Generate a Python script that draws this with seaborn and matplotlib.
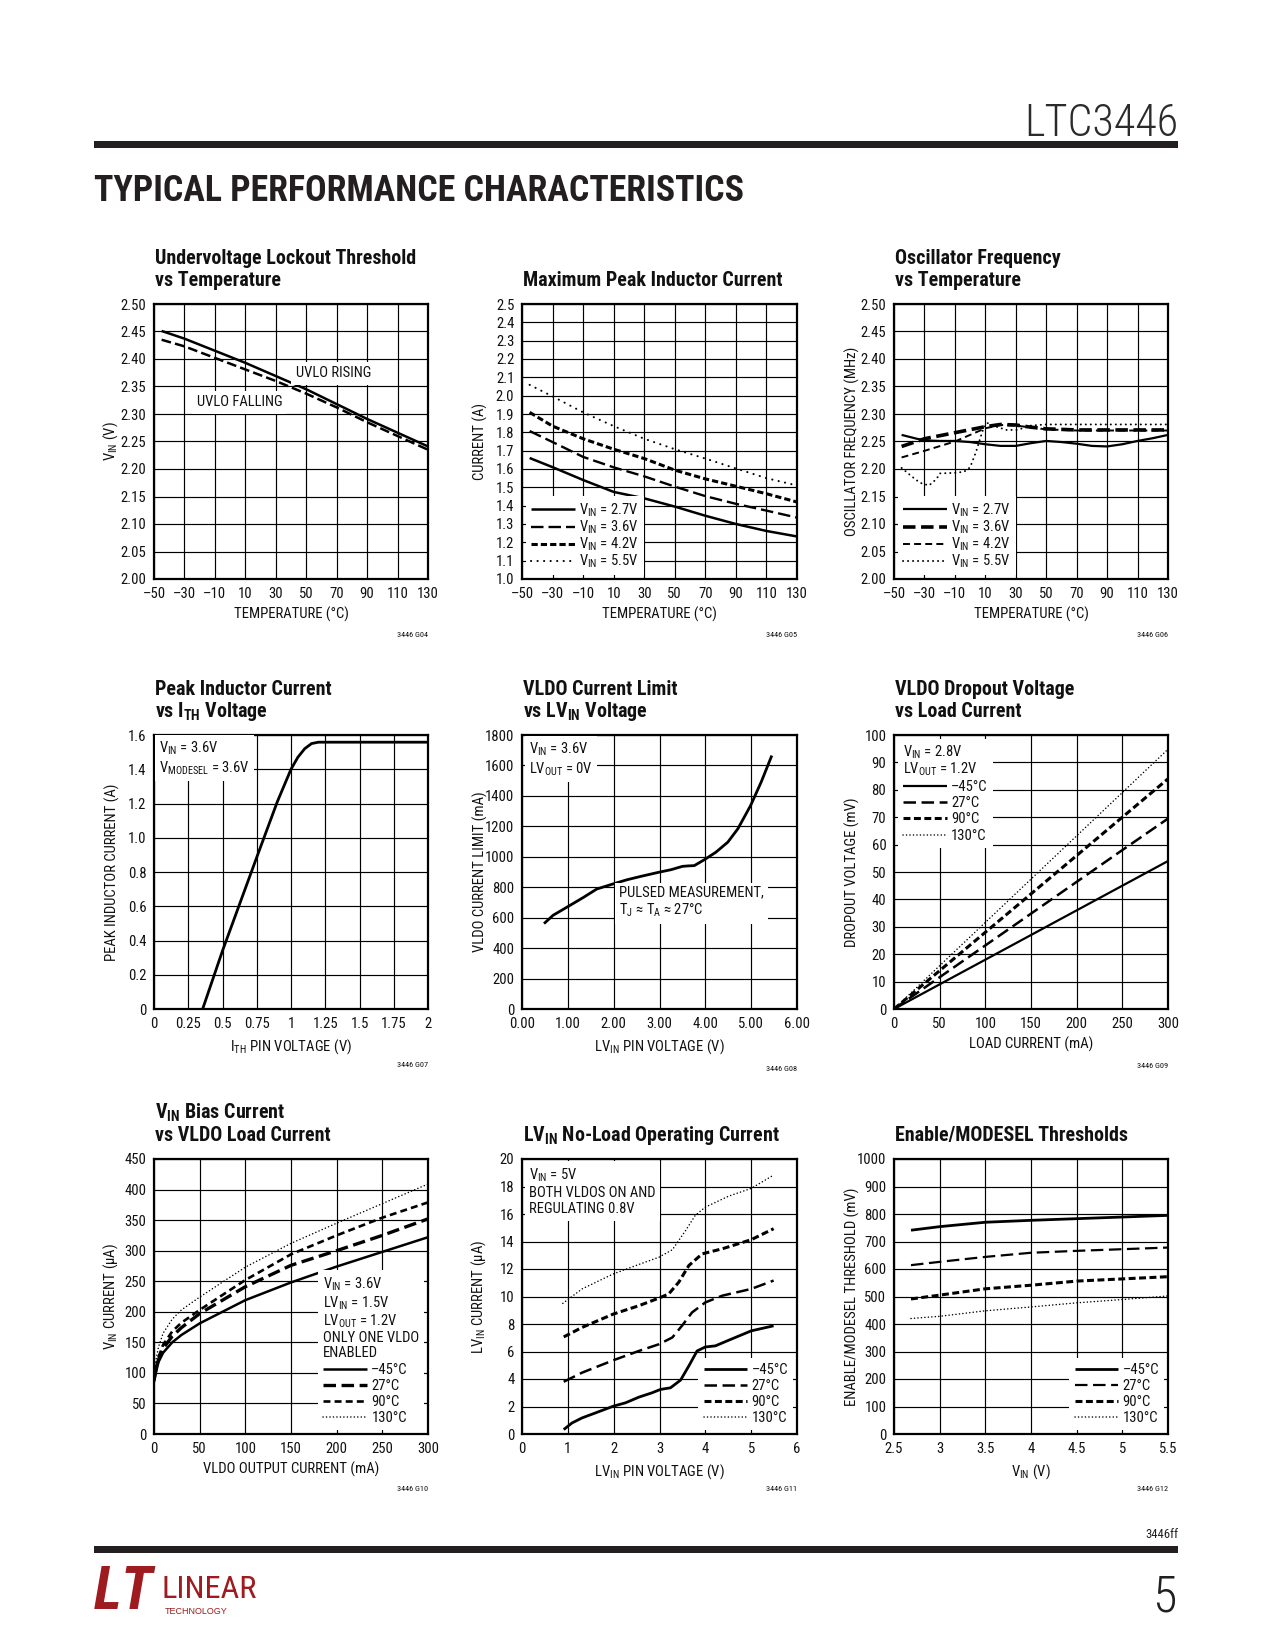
import matplotlib
matplotlib.use("Agg")
import matplotlib.pyplot as plt
from matplotlib import font_manager as fm
from matplotlib.patches import Rectangle
import seaborn as sns
import numpy as np
import pandas as pd

# ---------------- data ----------------
# G04 UVLO threshold vs temperature
uvlo_temp = [-45, -30, -10, 10, 30, 50, 70, 90, 110, 130]
uvlo_rising = [2.451, 2.437, 2.415, 2.393, 2.369, 2.345, 2.318, 2.291, 2.266, 2.241]
uvlo_falling = [2.435, 2.423, 2.402, 2.381, 2.360, 2.337, 2.312, 2.285, 2.260, 2.235]

# G05 maximum peak inductor current
pk_temp = [-45, -30, -10, 10, 30, 50, 70, 90, 110, 130]
pk_27 = [1.66, 1.61, 1.54, 1.475, 1.44, 1.395, 1.345, 1.30, 1.262, 1.232]
pk_36 = [1.807, 1.747, 1.666, 1.609, 1.56, 1.504, 1.452, 1.41, 1.373, 1.335]
pk_42 = [1.909, 1.834, 1.765, 1.708, 1.657, 1.594, 1.546, 1.506, 1.465, 1.42]
pk_55 = [2.059, 1.996, 1.909, 1.834, 1.765, 1.708, 1.657, 1.603, 1.55, 1.51]

# G06 oscillator frequency vs temperature
osc_t_27 = [-45, -35, -30, -20, -10, 0, 10, 20, 30, 40, 50, 60, 70, 80, 90, 100, 110, 120, 130]
osc_27 = [2.262, 2.255, 2.252, 2.251, 2.251, 2.249, 2.245, 2.242, 2.242, 2.247, 2.251,
          2.249, 2.246, 2.242, 2.241, 2.245, 2.251, 2.256, 2.262]
osc_t_36 = [-45, -30, -10, 10, 20, 30, 40, 50, 70, 90, 110, 130]
osc_36 = [2.241, 2.255, 2.266, 2.277, 2.281, 2.280, 2.276, 2.273, 2.271, 2.271, 2.271, 2.271]
osc_t_42 = [-45, -30, -10, 0, 10, 20, 30, 50, 70, 90, 110, 130]
osc_42 = [2.221, 2.233, 2.250, 2.262, 2.274, 2.280, 2.279, 2.272, 2.270, 2.270, 2.270, 2.270]
osc_t_55 = [-45, -39, -33, -27, -22, -20, -10, -4, 0, 4, 8, 11, 17, 24, 31, 40, 50, 70, 90, 110, 130]
osc_55 = [2.202, 2.188, 2.175, 2.170, 2.182, 2.192, 2.193, 2.195, 2.203, 2.232, 2.268, 2.284,
          2.277, 2.271, 2.271, 2.279, 2.281, 2.281, 2.281, 2.281, 2.281]

# G07 peak inductor current vs ITH
ith_v = [0.355, 0.5, 0.75, 0.9, 1.0, 1.05, 1.1, 1.15, 1.2, 2.0]
ith_i = [0.0, 0.34, 0.886, 1.21, 1.40, 1.47, 1.52, 1.55, 1.558, 1.558]

# G08 VLDO current limit vs LVIN
lim_v = [0.48, 0.68, 0.97, 1.34, 1.63, 1.98, 2.29, 2.59, 2.98, 3.25, 3.5, 3.62, 3.76,
         3.98, 4.23, 4.49, 4.71, 4.99, 5.22, 5.45]
lim_i = [561, 616, 667, 733, 788, 821, 849, 871, 898, 915, 937, 940, 942,
         981, 1030, 1096, 1184, 1338, 1492, 1665]

# G09 dropout voltage vs load current
drop_load = [0, 50, 100, 150, 200, 250, 300]
drop_m45 = [0, 9, 18, 27, 36, 45, 54]
drop_27 = [0, 11.6, 23.2, 34.8, 46.4, 58, 69.5]
drop_90 = [0, 14, 28, 42, 56, 70, 84]
drop_130 = [0, 15.8, 31.6, 47.4, 63.2, 79, 94.8]

# G10 VIN bias current vs VLDO load current
bias_x = [0, 2, 5, 10, 20, 30, 50, 100, 150, 200, 250, 300]
bias_m45 = [85, 100, 118, 133, 150, 162, 181, 219, 248, 274, 298, 322]
bias_27 = [88, 105, 122, 140, 160, 174, 197, 241, 276, 300, 325, 352]
bias_90 = [90, 108, 126, 146, 168, 182, 203, 252, 294, 325, 354, 379]
bias_130 = [95, 120, 143, 165, 188, 203, 224, 273, 312, 345, 377, 409]

# G11 LVIN no-load operating current
nl_v = [0.91, 1.09, 1.31, 1.6, 1.99, 2.26, 2.55, 2.84, 3.02, 3.24, 3.46, 3.64, 3.82,
        4.0, 4.22, 4.51, 5.0, 5.49]
nl_m45 = [0.32, 0.80, 1.17, 1.53, 2.02, 2.27, 2.68, 3.0, 3.24, 3.36, 3.92, 4.95, 6.04,
          6.33, 6.41, 6.82, 7.5, 7.87]
nl_v2 = [0.91, 1.31, 1.99, 2.55, 2.99, 3.28, 3.49, 3.71, 4.0, 4.37, 5.0, 5.49]
nl_27 = [3.8, 4.46, 5.36, 6.04, 6.53, 7.02, 7.87, 8.84, 9.57, 10.06, 10.55, 11.16]
nl_v3 = [0.91, 1.31, 1.99, 2.55, 2.99, 3.2, 3.42, 3.64, 3.93, 4.37, 5.0, 5.49]
nl_90 = [7.06, 7.75, 8.72, 9.33, 9.89, 10.18, 11.04, 12.25, 13.1, 13.47, 14.13, 14.93]
nl_v4 = [0.89, 1.31, 1.99, 2.55, 2.99, 3.28, 3.57, 3.78, 4.0, 4.51, 5.0, 5.49]
nl_130 = [9.5, 10.55, 11.64, 12.33, 12.86, 13.4, 14.8, 15.9, 16.5, 17.3, 17.86, 18.83]

# G12 enable/MODESEL thresholds
en_vin = [2.686, 3.0, 3.5, 4.0, 4.5, 5.0, 5.5]
en_m45 = [741, 754, 770, 777, 783, 789, 795]
en_27 = [614, 626, 644, 659, 666, 672, 678]
en_90 = [491, 505, 528, 541, 556, 564, 572]
en_130 = [420, 428, 448, 462, 477, 489, 502]

# tick labels
temp_ticks = [-50, -30, -10, 10, 30, 50, 70, 90, 110, 130]
temp_labels = ["\u201350", "\u201330", "\u201310", "10", "30", "50", "70", "90", "110", "130"]
v250_ticks = [2.00, 2.05, 2.10, 2.15, 2.20, 2.25, 2.30, 2.35, 2.40, 2.45, 2.50]
v250_labels = ["2.00", "2.05", "2.10", "2.15", "2.20", "2.25", "2.30", "2.35", "2.40", "2.45", "2.50"]
cur_ticks = [1.0, 1.1, 1.2, 1.3, 1.4, 1.5, 1.6, 1.7, 1.8, 1.9, 2.0, 2.1, 2.2, 2.3, 2.4, 2.5]
cur_labels = ["1.0", "1.1", "1.2", "1.3", "1.4", "1.5", "1.6", "1.7", "1.8", "1.9",
              "2.0", "2.1", "2.2", "2.3", "2.4", "2.5"]
ith_ticks = [0, 0.25, 0.5, 0.75, 1.0, 1.25, 1.5, 1.75, 2.0]
ith_labels = ["0", "0.25", "0.5", "0.75", "1", "1.25", "1.5", "1.75", "2"]
pki_ticks = [0, 0.2, 0.4, 0.6, 0.8, 1.0, 1.2, 1.4, 1.6]
pki_labels = ["0", "0.2", "0.4", "0.6", "0.8", "1.0", "1.2", "1.4", "1.6"]
lv_ticks = [0, 1, 2, 3, 4, 5, 6]
lv_labels = ["0.00", "1.00", "2.00", "3.00", "4.00", "5.00", "6.00"]
lim_ticks = [0, 200, 400, 600, 800, 1000, 1200, 1400, 1600, 1800]
load_ticks = [0, 50, 100, 150, 200, 250, 300]
drop_ticks = [0, 10, 20, 30, 40, 50, 60, 70, 80, 90, 100]
bias_ticks = [0, 50, 100, 150, 200, 250, 300, 350, 400, 450]
nl_xticks = [0, 1, 2, 3, 4, 5, 6]
nl_yticks = [0, 2, 4, 6, 8, 10, 12, 14, 16, 18, 20]
en_xticks = [2.5, 3.0, 3.5, 4.0, 4.5, 5.0, 5.5]
en_xlabels = ["2.5", "3", "3.5", "4", "4.5", "5", "5.5"]
en_yticks = [0, 100, 200, 300, 400, 500, 600, 700, 800, 900, 1000]

# ---------------- fonts ----------------
sns.set_theme(style="white")
ttf = fm.fontManager.ttflist
names = {f.name for f in ttf}
NARROW, STRETCH = None, "normal"
for cand in ["Liberation Sans Narrow", "Roboto Condensed", "Open Sans Condensed",
             "Noto Sans Condensed", "DejaVu Sans Condensed", "Arial Narrow"]:
    if cand in names:
        NARROW = cand
        break
if NARROW is None:
    for f in ttf:
        if f.name in ("DejaVu Sans", "Noto Sans", "Open Sans") and \
                f.stretch in ("condensed", "semi-condensed", 600, 700):
            NARROW, STRETCH = f.name, "condensed"
            break
if NARROW is None:
    NARROW = "Liberation Sans"

plt.rcParams["font.family"] = [NARROW, "DejaVu Sans"]
plt.rcParams["font.stretch"] = STRETCH
plt.rcParams["mathtext.fontset"] = "custom"
plt.rcParams["mathtext.rm"] = NARROW
plt.rcParams["mathtext.it"] = NARROW + ":italic"
plt.rcParams["mathtext.bf"] = NARROW + ":bold"
plt.rcParams["lines.scale_dashes"] = False
plt.rcParams["text.color"] = "#111111"

INK = "#111111"
W, H = 1275, 1650
fig = plt.figure(figsize=(W / 100, H / 100), dpi=100)
fig.patch.set_facecolor("white")
R = fig.canvas.get_renderer()


def fit_fs(text, target_px, base=10.0, **kw):
    t = fig.text(0, 0, text, fontsize=base, **kw)
    w = t.get_window_extent(renderer=R).width
    t.remove()
    return base * target_px / w


TITLE_FS = fit_fs("Undervoltage Lockout Threshold", 261, fontweight="bold")
LAB_FS = fit_fs("TEMPERATURE (\u00b0C)", 116)
NOTE_FS = fit_fs("UVLO FALLING", 86)
TICK_FS = min(fit_fs("2.50", 25.5), LAB_FS * 1.15)
CODE_FS = fit_fs("3446 G04", 31)
HDR_FS = fit_fs("LTC3446", 154, fontweight="light")
TPC_FS = fit_fs("TYPICAL PERFORMANCE CHARACTERISTICS", 648, fontweight="heavy")
SMALL_FS = fit_fs("3446ff", 33)

COLS = [(154, 428), (522, 797), (894, 1168)]
ROWS = [(304, 579), (735, 1009), (1159, 1434)]


def panel(col, row):
    x0, x1 = COLS[col]
    y0, y1 = ROWS[row]
    return fig.add_axes([x0 / W, 1 - y1 / H, (x1 - x0) / W, (y1 - y0) / H])


def style(ax, xlim, ylim, xt, xtl, yt, ytl, xlabel, ylabel, code, code_dy=58):
    ax.set_facecolor("white")
    ax.set_xlim(xlim)
    ax.set_ylim(ylim)
    ax.set_xticks(xt)
    ax.set_xticklabels(xtl)
    ax.set_yticks(yt)
    ax.set_yticklabels(ytl)
    ax.grid(True, color="black", linewidth=0.85)
    ax.set_axisbelow(True)
    for s in ax.spines.values():
        s.set_visible(True)
        s.set_color("black")
        s.set_linewidth(1.6)
    ax.tick_params(axis="x", length=0, pad=6, labelsize=TICK_FS, colors=INK)
    ax.tick_params(axis="y", length=0, pad=5.5, labelsize=TICK_FS, colors=INK)
    ax.set_xlabel(xlabel, fontsize=LAB_FS, color=INK)
    ax.set_ylabel(ylabel, fontsize=LAB_FS, color=INK)
    bb = ax.get_position()
    wpx = bb.width * W
    hpx = bb.height * H
    ax.xaxis.set_label_coords(0.5, -28 / hpx)
    ax.yaxis.set_label_coords(-34 / wpx, 0.5)
    fig.text(bb.x1, 1 - ((1 - bb.y0) * H + code_dy) / H, code, fontsize=CODE_FS, ha="right",
             va="baseline", color=INK)


def title(ax, lines):
    bb = ax.get_position()
    x = bb.x0 + 1 / W
    top = (1 - bb.y1) * H
    offs = [40, 18] if len(lines) == 2 else [18]
    for t, o in zip(lines, offs):
        fig.text(x, 1 - (top - o) / H, t, fontsize=TITLE_FS, fontweight="bold",
                 ha="left", va="baseline", color=INK)


def curve(ax, x, y, lw, ls="-", cap="butt"):
    sns.lineplot(x=x, y=y, ax=ax, color="black", linewidth=lw, linestyle=ls,
                 estimator=None, errorbar=None, sort=False, legend=False)
    line = ax.lines[-1]
    line.set_dash_capstyle(cap)
    line.set_solid_capstyle("butt")
    return line


def legend(ax, lines, labels, loc, title=None, spacing=0.15, tls=1.05):
    leg = ax.legend(lines, labels, loc=loc, title=title, fontsize=NOTE_FS,
                    title_fontsize=NOTE_FS, frameon=True, fancybox=False, framealpha=1,
                    facecolor="white", edgecolor="none", handlelength=3.0,
                    handletextpad=0.3, labelspacing=spacing, borderpad=0.35,
                    borderaxespad=0.25, alignment="left")
    leg.get_frame().set_linewidth(0)
    leg.get_title().set_linespacing(tls)
    return leg


def note(ax, x, y, s, va="top"):
    ax.text(x, y, s, transform=ax.transData, fontsize=NOTE_FS, ha="left", va=va, color=INK,
            linespacing=1.2, bbox=dict(facecolor="white", edgecolor="none", pad=3),
            zorder=4)


LONG = (0, (9, 4))
SHORT = (0, (5, 2.5))
DOT2 = (0, (0.1, 4.6))
DOT3 = (0, (0.1, 3.5))
DOTF = (0, (0.1, 2.4))

VIN = "V$_{\\mathrm{IN}}$"
TEMPS = ["\u201345\u00b0C", "27\u00b0C", "90\u00b0C", "130\u00b0C"]

# ---------------- G04 ----------------
ax = panel(0, 0)
curve(ax, uvlo_temp, uvlo_rising, 1.8)
curve(ax, uvlo_temp, uvlo_falling, 1.8, (0, (7, 3)))
style(ax, (-50, 130), (2.0, 2.5), temp_ticks, temp_labels, v250_ticks, v250_labels,
      "TEMPERATURE (\u00b0C)", VIN + " (V)", "3446 G04")
note(ax, 43, 2.374, "UVLO RISING", va="center")
note(ax, -22, 2.321, "UVLO FALLING", va="center")
title(ax, ["Undervoltage Lockout Threshold", "vs Temperature"])

# ---------------- G05 ----------------
ax = panel(1, 0)
l1 = curve(ax, pk_temp, pk_27, 1.8)
l2 = curve(ax, pk_temp, pk_36, 1.7, (0, (9, 3.6)))
l3 = curve(ax, pk_temp, pk_42, 2.2, (0, (4.5, 2.2)))
l4 = curve(ax, pk_temp, pk_55, 1.5, DOT2, cap="round")
style(ax, (-50, 130), (1.0, 2.5), temp_ticks, temp_labels, cur_ticks, cur_labels,
      "TEMPERATURE (\u00b0C)", "CURRENT (A)", "3446 G05")
legend(ax, [l1, l2, l3, l4], [VIN + " = 2.7V", VIN + " = 3.6V", VIN + " = 4.2V", VIN + " = 5.5V"],
       "lower left", spacing=-0.02)
title(ax, ["Maximum Peak Inductor Current"])

# ---------------- G06 ----------------
ax = panel(2, 0)
l1 = curve(ax, osc_t_27, osc_27, 1.6)
l2 = curve(ax, osc_t_36, osc_36, 2.6, (0, (9, 4)))
l3 = curve(ax, osc_t_42, osc_42, 1.4, (0, (5, 3)))
l4 = curve(ax, osc_t_55, osc_55, 1.4, DOT3, cap="round")
style(ax, (-50, 130), (2.0, 2.5), temp_ticks, temp_labels, v250_ticks, v250_labels,
      "TEMPERATURE (\u00b0C)", "OSCILLATOR FREQUENCY (MHz)", "3446 G06")
legend(ax, [l1, l2, l3, l4], [VIN + " = 2.7V", VIN + " = 3.6V", VIN + " = 4.2V", VIN + " = 5.5V"],
       "lower left", spacing=-0.02)
title(ax, ["Oscillator Frequency", "vs Temperature"])

# ---------------- G07 ----------------
ax = panel(0, 1)
curve(ax, ith_v, ith_i, 2.0)
style(ax, (0, 2), (0, 1.6), ith_ticks, ith_labels, pki_ticks, pki_labels,
      "I$_{\\mathrm{TH}}$ PIN VOLTAGE (V)", "PEAK INDUCTOR CURRENT (A)", "3446 G07")
note(ax, 0.04, 1.575, VIN + " = 3.6V\nV$_{\\mathrm{MODESEL}}$ = 3.6V")
title(ax, ["Peak Inductor Current", "vs I$_{\\mathbf{TH}}$ Voltage"])

# ---------------- G08 ----------------
ax = panel(1, 1)
curve(ax, lim_v, lim_i, 2.0)
style(ax, (0, 6), (0, 1800), lv_ticks, lv_labels, lim_ticks, [str(v) for v in lim_ticks],
      "LV$_{\\mathrm{IN}}$ PIN VOLTAGE (V)", "VLDO CURRENT LIMIT (mA)", "3446 G08", 62)
note(ax, 0.15, 1765, VIN + " = 3.6V\nLV$_{\\mathrm{OUT}}$ = 0V")
note(ax, 2.12, 812, "PULSED MEASUREMENT,\nT$_{\\mathrm{J}}$ \u2248 T$_{\\mathrm{A}}$ \u2248 27\u00b0C")
title(ax, ["VLDO Current Limit", "vs LV$_{\\mathbf{IN}}$ Voltage"])

# ---------------- G09 ----------------
ax = panel(2, 1)
l1 = curve(ax, drop_load, drop_m45, 1.6)
l2 = curve(ax, drop_load, drop_27, 1.8, LONG)
l3 = curve(ax, drop_load, drop_90, 2.2, SHORT)
l4 = curve(ax, drop_load, drop_130, 1.1, DOTF, cap="round")
style(ax, (0, 300), (0, 100), load_ticks, [str(v) for v in load_ticks], drop_ticks,
      [str(v) for v in drop_ticks], "LOAD CURRENT (mA)", "DROPOUT VOLTAGE (mV)", "3446 G09", 59)
legend(ax, [l1, l2, l3, l4], TEMPS, "upper left",
       title=VIN + " = 2.8V\nLV$_{\\mathrm{OUT}}$ = 1.2V", spacing=0.15, tls=0.95)
title(ax, ["VLDO Dropout Voltage", "vs Load Current"])

# ---------------- G10 ----------------
ax = panel(0, 2)
l1 = curve(ax, bias_x, bias_m45, 1.8)
l2 = curve(ax, bias_x, bias_27, 2.4, LONG)
l3 = curve(ax, bias_x, bias_90, 1.9, (0, (5, 3)))
l4 = curve(ax, bias_x, bias_130, 1.1, DOTF, cap="round")
style(ax, (0, 300), (0, 450), load_ticks, [str(v) for v in load_ticks], bias_ticks,
      [str(v) for v in bias_ticks], "VLDO OUTPUT CURRENT (mA)",
      VIN + " CURRENT (\u00b5A)", "3446 G10", 57)
legend(ax, [l1, l2, l3, l4], TEMPS, "lower right",
       title=VIN + " = 3.6V\nLV$_{\\mathrm{IN}}$ = 1.5V\nLV$_{\\mathrm{OUT}}$ = 1.2V\nONLY ONE VLDO\nENABLED",
       spacing=0.15, tls=1.1)
title(ax, ["V$_{\\mathbf{IN}}$ Bias Current", "vs VLDO Load Current"])

# ---------------- G11 ----------------
ax = panel(1, 2)
l1 = curve(ax, nl_v, nl_m45, 2.0)
l2 = curve(ax, nl_v2, nl_27, 1.8, LONG)
l3 = curve(ax, nl_v3, nl_90, 2.2, SHORT)
l4 = curve(ax, nl_v4, nl_130, 1.1, DOTF, cap="round")
style(ax, (0, 6), (0, 20), nl_xticks, [str(v) for v in nl_xticks], nl_yticks,
      [str(v) for v in nl_yticks], "LV$_{\\mathrm{IN}}$ PIN VOLTAGE (V)",
      "LV$_{\\mathrm{IN}}$ CURRENT (\u00b5A)", "3446 G11", 57)
note(ax, 0.15, 19.45, VIN + " = 5V\nBOTH VLDOS ON AND\nREGULATING 0.8V")
legend(ax, [l1, l2, l3, l4], TEMPS, "lower right", spacing=0.15)
title(ax, ["LV$_{\\mathbf{IN}}$ No-Load Operating Current"])

# ---------------- G12 ----------------
ax = panel(2, 2)
l1 = curve(ax, en_vin, en_m45, 2.0)
l2 = curve(ax, en_vin, en_27, 1.6, LONG)
l3 = curve(ax, en_vin, en_90, 2.2, SHORT)
l4 = curve(ax, en_vin, en_130, 1.1, DOTF, cap="round")
style(ax, (2.5, 5.5), (0, 1000), en_xticks, en_xlabels, en_yticks,
      [str(v) for v in en_yticks], VIN + " (V)", "ENABLE/MODESEL THRESHOLD (mV)", "3446 G12", 57)
legend(ax, [l1, l2, l3, l4], TEMPS, "lower right", spacing=0.15)
title(ax, ["Enable/MODESEL Thresholds"])

# ---------------- page furniture ----------------
DARK = "#231f20"
RED = "#9e1b20"
fig.text(1178 / W, 1 - 136 / H, "LTC3446", fontsize=HDR_FS, fontweight="light",
         ha="right", va="baseline", color="#2b2b2b")
fig.add_artist(Rectangle((94 / W, 1 - 148 / H), (1178 - 94) / W, 7 / H,
                         transform=fig.transFigure, color=DARK, lw=0))
fig.text(94 / W, 1 - 201 / H, "TYPICAL PERFORMANCE CHARACTERISTICS", fontsize=TPC_FS,
         fontweight="heavy", ha="left", va="baseline", color=DARK)
fig.text(1178 / W, 1 - 1538 / H, "3446ff", fontsize=SMALL_FS, ha="right", va="baseline",
         color=DARK)
fig.add_artist(Rectangle((94 / W, 1 - 1553 / H), (1178 - 94) / W, 7 / H,
                         transform=fig.transFigure, color=DARK, lw=0))
fig.text(1176 / W, 1 - 1611 / H, "5", fontsize=36, fontweight="light", ha="right",
         va="baseline", color=DARK)
fig.text(94 / W, 1 - 1609 / H, "LT", fontsize=fit_fs("LT", 60, fontweight="bold", fontstyle="italic"),
         fontweight="bold", fontstyle="italic", ha="left", va="baseline", color=RED)
fig.text(162 / W, 1 - 1598 / H, "LINEAR", fontsize=fit_fs("LINEAR", 95), ha="left",
         va="baseline", color=RED)
fig.text(165 / W, 1 - 1614 / H, "TECHNOLOGY", fontsize=6.5, family="Liberation Sans",
         ha="left", va="baseline", color=RED)

fig.savefig("out.png", dpi=100, facecolor="white")
